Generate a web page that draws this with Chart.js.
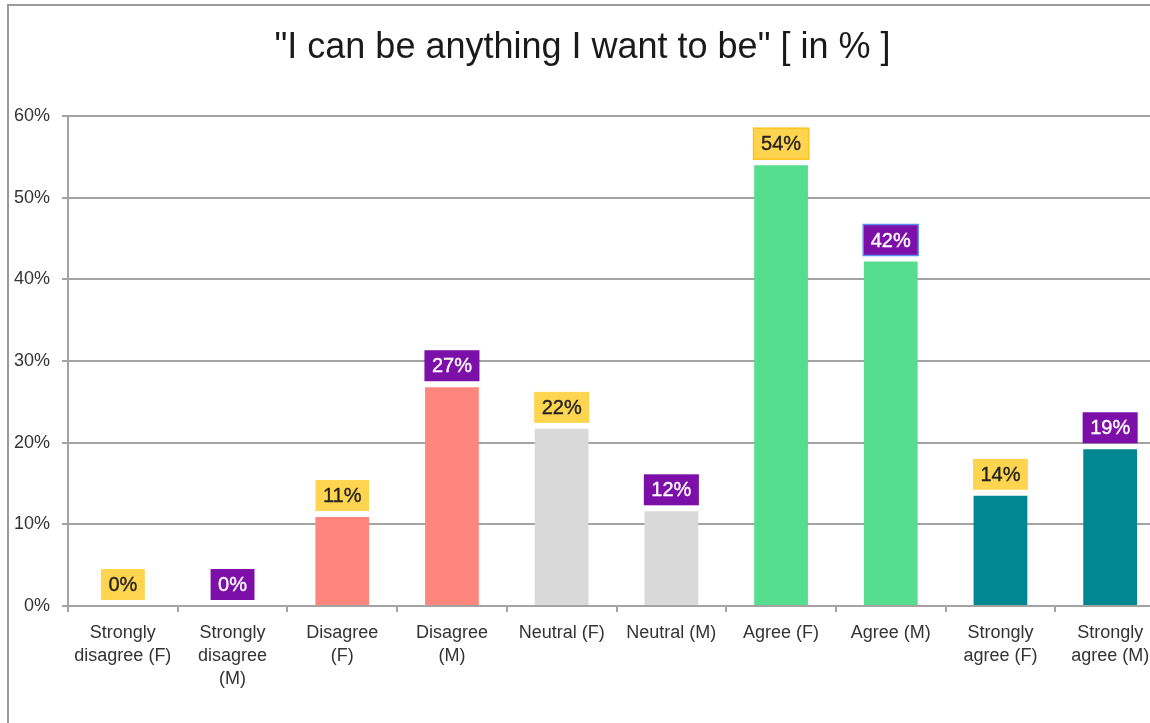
<!DOCTYPE html>
<html>
<head>
<meta charset="utf-8">
<title>I can be anything I want to be</title>
<script src="https://cdn.jsdelivr.net/npm/chart.js@4"></script>
<style>
  html, body { margin: 0; padding: 0; background: #fff; overflow: hidden; }
  #wrap { position: absolute; left: 0; top: 0; width: 1180px; height: 723px; }
</style>
</head>
<body>
<div id="wrap"><canvas id="answerChart" width="1180" height="723"></canvas></div>
<script>
const categories = [
    ["Strongly", "disagree (F)"],
    ["Strongly", "disagree", "(M)"],
    ["Disagree", "(F)"],
    ["Disagree", "(M)"],
    "Neutral (F)",
    "Neutral (M)",
    "Agree (F)",
    "Agree (M)",
    ["Strongly", "agree (F)"],
    ["Strongly", "agree (M)"],
];
const percentages = [0, 0, 10.9, 26.8, 21.7, 11.6, 54.0, 42.2, 13.5, 19.2];
const genders = ["F", "M", "F", "M", "F", "M", "F", "M", "F", "M"];
const yTicks = [0, 10, 20, 30, 40, 50, 60];

const barColors = [
    "#C0392B", "#C0392B",
    "#FF867C", "#FF867C",
    "#D9D9D9", "#D9D9D9",
    "#56DD8E", "#56DD8E",
    "#00878F", "#00878F",
];

const gridColor = "#A3A3A3";
const font = "'Liberation Sans', Arial, sans-serif";

// value boxes above the bars: yellow for F, purple for M
const valueBoxes = {
    id: "valueBoxes",
    afterDatasetsDraw(chart) {
        const ctx = chart.ctx;
        const meta = chart.getDatasetMeta(0);
        ctx.save();
        ctx.font = "20px " + font;
        ctx.textAlign = "center";
        ctx.textBaseline = "middle";
        meta.data.forEach((bar, i) => {
            const text = Math.round(percentages[i]) + "%";
            const w = ctx.measureText(text).width + 15;
            const h = 31;
            const bottom = bar.y - 6;
            const x = bar.x - w / 2;
            const y = bottom - h;
            const female = genders[i] === "F";
            ctx.fillStyle = female ? "#FFD54F" : "#7B0FA7";
            ctx.fillRect(x, y, w, h);
            if (i === 6 || i === 7) {
                ctx.strokeStyle = i === 6 ? "#FFC21A" : "#5B8DEF";
                ctx.lineWidth = 1.5;
                ctx.strokeRect(x, y, w, h);
            }
            // slightly heavier text than the axis labels
            const ink = female ? "#222" : "#fff";
            ctx.fillStyle = ink;
            ctx.strokeStyle = ink;
            ctx.lineWidth = 0.35;
            ctx.fillText(text, bar.x, y + h / 2 + 1);
            ctx.strokeText(text, bar.x, y + h / 2 + 1);
        });
        ctx.restore();
    },
};

// grey frame around the chart
const frame = {
    id: "frame",
    beforeDraw(chart) {
        const ctx = chart.ctx;
        ctx.save();
        ctx.strokeStyle = "#9A9A9A";
        ctx.lineWidth = 2;
        ctx.beginPath();
        ctx.moveTo(8, chart.height);
        ctx.lineTo(8, 5);
        ctx.lineTo(chart.width, 5);
        ctx.stroke();
        ctx.restore();
    },
};

const data = {
    labels: categories,
    datasets: [
        {
            label: "Answers",
            data: percentages,
            backgroundColor: barColors,
            borderWidth: 0,
            barPercentage: 0.49,
            categoryPercentage: 1,
        },
    ],
};

const config = {
    type: "bar",
    data: data,
    options: {
        responsive: false,
        animation: false,
        layout: {
            padding: { left: 0, right: 15, top: 0, bottom: 0 },
        },
        plugins: {
            legend: { display: false },
            tooltip: { enabled: false },
            title: {
                display: true,
                text: "\"I can be anything I want to be\" [ in % ]",
                color: "#1a1a1a",
                font: { family: font, size: 36, weight: "normal" },
                padding: { top: 26, bottom: 47 },
            },
        },
        scales: {
            x: {
                grid: {
                    display: true,
                    drawOnChartArea: false,
                    drawTicks: true,
                    tickLength: 6,
                    color: gridColor,
                    lineWidth: 2,
                },
                border: { display: true, color: gridColor, width: 2 },
                ticks: {
                    color: "#333",
                    font: { family: font, size: 18, lineHeight: 1.27 },
                    padding: 10,
                    maxRotation: 0,
                    autoSkip: false,
                },
                afterFit(scale) {
                    scale.height = 117;
                },
            },
            y: {
                min: 0,
                max: 60,
                afterBuildTicks(scale) {
                    scale.ticks = yTicks.map(v => ({ value: v }));
                },
                grid: {
                    color: gridColor,
                    lineWidth: 2,
                    tickLength: 6,
                },
                border: { display: true, color: gridColor, width: 2 },
                ticks: {
                    color: "#333",
                    font: { family: font, size: 18 },
                    padding: 12,
                    callback: v => v + "%",
                },
                afterFit(scale) {
                    scale.width = 68;
                },
            },
        },
    },
    plugins: [frame, valueBoxes],
};

new Chart(document.getElementById("answerChart"), config);
</script>
</body>
</html>
